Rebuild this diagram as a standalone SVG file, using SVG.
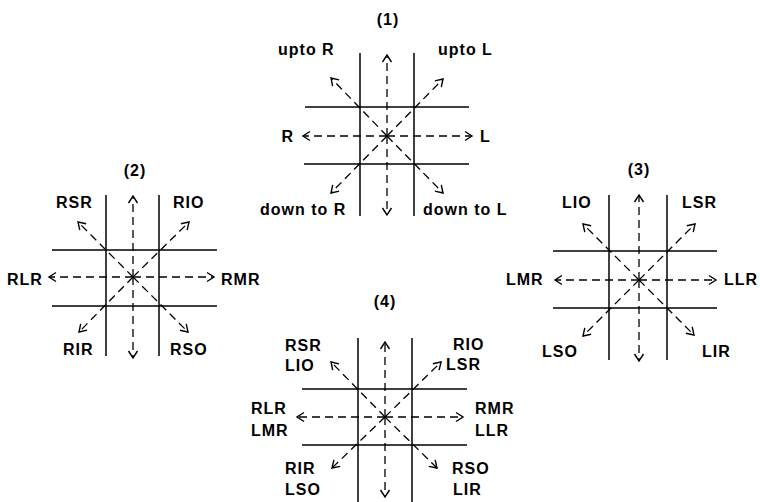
<svg xmlns="http://www.w3.org/2000/svg" width="760" height="502" viewBox="0 0 760 502">
<style>
.bg{fill:#fff}
.grid{stroke:#000;stroke-width:1.5;fill:none}
.arr{stroke:#000;stroke-width:1.3;fill:none;stroke-dasharray:8 5;marker-end:url(#ah)}
.t{font-family:"Liberation Sans",Arial,Helvetica,sans-serif;font-weight:bold;font-size:16px;letter-spacing:1px;fill:#000}
.m{text-anchor:middle}
.e{text-anchor:end}
</style>
<defs>
<marker id="ah" viewBox="-9 -6 11 12" markerWidth="11" markerHeight="12" refX="0" refY="0" orient="auto" markerUnits="userSpaceOnUse">
<path d="M-7,-4.5 L0,0 L-7,4.5" fill="none" stroke="#000" stroke-width="1.4" stroke-dasharray="none"/>
</marker>
</defs>
<rect class="bg" x="0" y="0" width="760" height="502"/>

<g id="panel1">
<g id="grid1" class="grid">
<line x1="360" y1="53" x2="360" y2="216"/>
<line x1="414" y1="53" x2="414" y2="216"/>
<line x1="305" y1="107" x2="469" y2="107"/>
<line x1="304" y1="164" x2="469" y2="164"/>
</g>
<g id="connectors1">
<line class="arr" x1="387" y1="136" x2="387" y2="55"/>
<line class="arr" x1="387" y1="136" x2="387" y2="215"/>
<line class="arr" x1="387" y1="136" x2="303" y2="136"/>
<line class="arr" x1="387" y1="136" x2="472" y2="136"/>
<line class="arr" x1="387" y1="136" x2="331" y2="78"/>
<line class="arr" x1="387" y1="136" x2="443" y2="79"/>
<line class="arr" x1="387" y1="136" x2="331" y2="193"/>
<line class="arr" x1="387" y1="136" x2="443" y2="193"/>
</g>
<g id="labels1">
<text class="t m" x="388" y="25">(1)</text>
<text class="t" x="278" y="55">upto R</text>
<text class="t" x="438" y="55">upto L</text>
<text class="t e" x="294" y="142">R</text>
<text class="t" x="480" y="142">L</text>
<text class="t" x="260" y="215">down to R</text>
<text class="t" x="423" y="215">down to L</text>
</g>
</g>

<g id="panel2">
<g id="grid2" class="grid">
<line x1="106" y1="195" x2="106" y2="356"/>
<line x1="159" y1="195" x2="159" y2="356"/>
<line x1="52" y1="250" x2="217" y2="250"/>
<line x1="52" y1="306" x2="217" y2="306"/>
</g>
<g id="connectors2">
<line class="arr" x1="133" y1="277" x2="133" y2="196"/>
<line class="arr" x1="133" y1="277" x2="133" y2="358"/>
<line class="arr" x1="133" y1="277" x2="49" y2="277"/>
<line class="arr" x1="133" y1="277" x2="214" y2="277"/>
<line class="arr" x1="133" y1="277" x2="78" y2="222"/>
<line class="arr" x1="133" y1="277" x2="189" y2="222"/>
<line class="arr" x1="133" y1="277" x2="79" y2="332"/>
<line class="arr" x1="133" y1="277" x2="188" y2="332"/>
</g>
<g id="labels2">
<text class="t m" x="135" y="176">(2)</text>
<text class="t" x="56" y="208">RSR</text>
<text class="t" x="173" y="208">RIO</text>
<text class="t" x="7" y="285">RLR</text>
<text class="t" x="221" y="285">RMR</text>
<text class="t" x="63" y="355">RIR</text>
<text class="t" x="170" y="355">RSO</text>
</g>
</g>

<g id="panel3">
<g id="grid3" class="grid">
<line x1="609" y1="195" x2="609" y2="360"/>
<line x1="667" y1="195" x2="667" y2="360"/>
<line x1="553" y1="251" x2="717" y2="251"/>
<line x1="553" y1="308" x2="717" y2="308"/>
</g>
<g id="connectors3">
<line class="arr" x1="639" y1="280" x2="639" y2="195"/>
<line class="arr" x1="639" y1="280" x2="639" y2="361"/>
<line class="arr" x1="639" y1="280" x2="555" y2="280"/>
<line class="arr" x1="639" y1="280" x2="716" y2="280"/>
<line class="arr" x1="639" y1="280" x2="583" y2="224"/>
<line class="arr" x1="639" y1="280" x2="695" y2="224"/>
<line class="arr" x1="639" y1="280" x2="583" y2="336"/>
<line class="arr" x1="639" y1="280" x2="694" y2="335"/>
</g>
<g id="labels3">
<text class="t m" x="639" y="175">(3)</text>
<text class="t" x="562" y="208">LIO</text>
<text class="t" x="682" y="208">LSR</text>
<text class="t" x="506" y="285">LMR</text>
<text class="t" x="724" y="285">LLR</text>
<text class="t" x="542" y="357">LSO</text>
<text class="t" x="702" y="357">LIR</text>
</g>
</g>

<g id="panel4">
<g id="grid4" class="grid">
<line x1="358" y1="338" x2="358" y2="502"/>
<line x1="412" y1="338" x2="412" y2="502"/>
<line x1="302" y1="389" x2="467" y2="389"/>
<line x1="302" y1="445" x2="467" y2="445"/>
</g>
<g id="connectors4">
<line class="arr" x1="385" y1="417" x2="385" y2="342"/>
<line class="arr" x1="385" y1="417" x2="385" y2="497"/>
<line class="arr" x1="385" y1="417" x2="297" y2="417"/>
<line class="arr" x1="385" y1="417" x2="463" y2="417"/>
<line class="arr" x1="385" y1="417" x2="331" y2="362"/>
<line class="arr" x1="385" y1="417" x2="441" y2="362"/>
<line class="arr" x1="385" y1="417" x2="332" y2="468"/>
<line class="arr" x1="385" y1="417" x2="437" y2="468"/>
</g>
<g id="labels4">
<text class="t m" x="385" y="307">(4)</text>
<text class="t" x="285" y="351">RSR</text>
<text class="t" x="285" y="371">LIO</text>
<text class="t" x="453" y="350">RIO</text>
<text class="t" x="446" y="370">LSR</text>
<text class="t" x="251" y="414">RLR</text>
<text class="t" x="251" y="436">LMR</text>
<text class="t" x="475" y="414">RMR</text>
<text class="t" x="475" y="436">LLR</text>
<text class="t" x="285" y="474">RIR</text>
<text class="t" x="285" y="495">LSO</text>
<text class="t" x="452" y="474">RSO</text>
<text class="t" x="453" y="495">LIR</text>
</g>
</g>
</svg>
